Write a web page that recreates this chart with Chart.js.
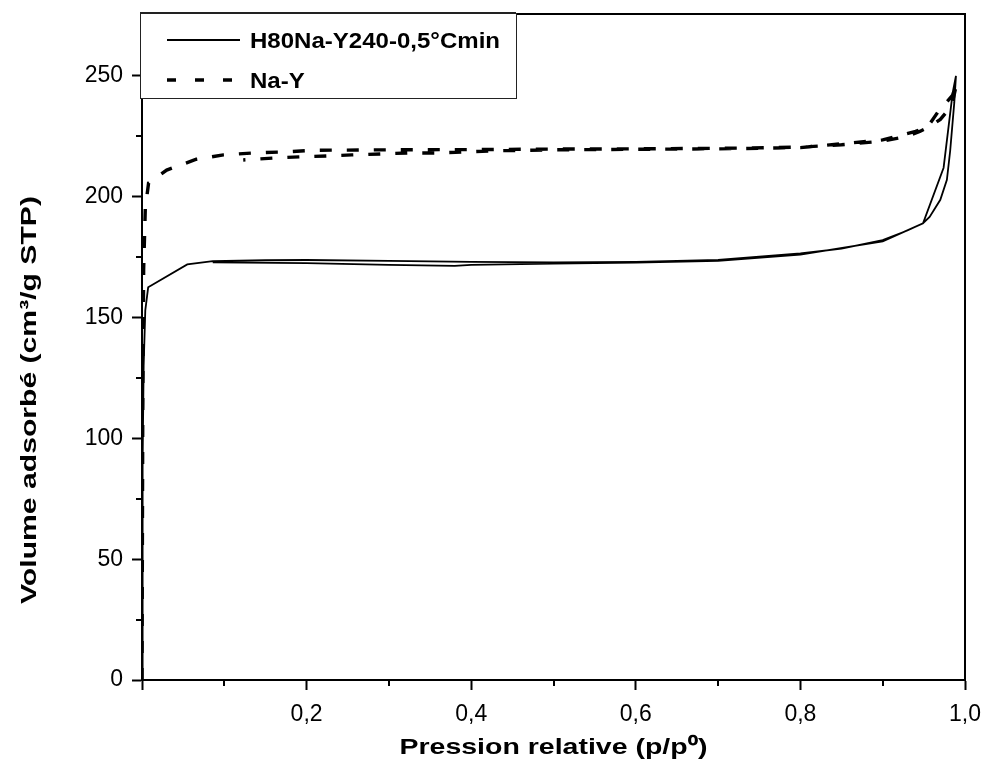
<!DOCTYPE html>
<html>
<head>
<meta charset="utf-8">
<script src="https://cdn.jsdelivr.net/npm/chart.js@4.4.1/dist/chart.umd.min.js"></script>
<style>
  html, body { margin: 0; padding: 0; background: #fff; }
  #wrap { width: 983px; height: 776px; }
</style>
</head>
<body>
<div id="wrap"><canvas id="iso"></canvas></div>
<script>
// isotherm data (p/p0 -> cm3/g STP), adsorption then desorption
const h80Label = "H80Na-Y240-0,5°Cmin";
const h80P = [0, 0.0005, 0.001, 0.002, 0.004, 0.0075, 0.055, 0.086, 0.15, 0.2, 0.3, 0.4, 0.5, 0.6, 0.7, 0.8, 0.85, 0.9, 0.93, 0.949, 0.957, 0.97, 0.978, 0.982, 0.987, 0.989,
              0.985, 0.974, 0.949, 0.9, 0.8, 0.7, 0.6, 0.5, 0.4, 0.38, 0.3, 0.2, 0.086];
const h80V = [0, 40, 90, 130, 153, 162.5, 172, 173.3, 173.7, 173.8, 173.4, 173, 172.8, 173, 173.8, 176.5, 178.5, 182, 186, 189, 191.6, 198.7, 207, 219, 239, 250,
              243, 212, 189, 181.5, 176, 173.5, 172.7, 172.3, 171.8, 171.4, 171.8, 172.5, 172.8];

const naYLabel = "Na-Y";
const naYP = [0, 0.0005, 0.001, 0.002, 0.004, 0.008, 0.03, 0.066, 0.099, 0.135, 0.172, 0.208, 0.3, 0.4, 0.5, 0.6, 0.7, 0.8, 0.85, 0.9, 0.93, 0.945, 0.957, 0.97, 0.98, 0.986, 0.99,
              0.985, 0.967, 0.955, 0.94, 0.9, 0.8, 0.7, 0.6, 0.5, 0.43, 0.393, 0.359, 0.324, 0.29, 0.255, 0.229, 0.192, 0.16, 0.123];
const naYV = [0, 60, 120, 170, 195, 205.7, 211, 215.5, 217.3, 218.1, 218.5, 219.2, 219.4, 219.5, 219.7, 219.8, 220, 220.5, 221.5, 223, 225, 227, 229, 232, 236, 241, 247,
              242, 235, 229, 227, 223.5, 220.3, 219.8, 219.6, 219.4, 219, 218.5, 218.1, 218.1, 217.7, 217.3, 216.9, 216.5, 216, 215.2];

const xMinorTicks = [0.1, 0.3, 0.5, 0.7, 0.9];
const yMinorTicks = [25, 75, 125, 175, 225];

const xTitle = "Pression relative (p/p⁰)";
const yTitle = "Volume adsorbé (cm³/g STP)";

const toPoints = (xs, ys) => xs.map((x, i) => ({ x: x, y: ys[i] }));
const FONT = "'Liberation Sans', Arial, sans-serif";

// draws text at (0,0) stretched horizontally by factor k
function wideText(ctx, text, k) {
    ctx.save();
    ctx.scale(k, 1);
    ctx.fillText(text, 0, 0);
    ctx.restore();
}

// frame, minor ticks, axis titles and the boxed legend
const extras = {
    id: "extras",
    afterDraw(chart) {
        const ctx = chart.ctx;
        const a = chart.chartArea;
        const xs = chart.scales.x, ys = chart.scales.y;
        ctx.save();
        ctx.strokeStyle = "#000";
        ctx.lineWidth = 2;
        ctx.beginPath();
        ctx.moveTo(a.left, a.top); ctx.lineTo(a.right, a.top); ctx.lineTo(a.right, a.bottom);
        xMinorTicks.forEach(v => {
            const px = Math.round(xs.getPixelForValue(v));
            ctx.moveTo(px, a.bottom); ctx.lineTo(px, a.bottom + 6);
        });
        yMinorTicks.forEach(v => {
            const py = Math.round(ys.getPixelForValue(v));
            ctx.moveTo(a.left, py); ctx.lineTo(a.left - 6, py);
        });
        ctx.stroke();

        ctx.fillStyle = "#000";
        ctx.font = "bold 22px " + FONT;
        ctx.textAlign = "center";
        ctx.textBaseline = "middle";
        // x title
        ctx.save();
        ctx.translate((a.left + a.right) / 2, 748);
        wideText(ctx, xTitle, 308 / ctx.measureText(xTitle).width);
        ctx.restore();
        // y title
        ctx.save();
        ctx.translate(30, 400);
        ctx.rotate(-Math.PI / 2);
        wideText(ctx, yTitle, 408 / ctx.measureText(yTitle).width);
        ctx.restore();
        ctx.restore();

        // legend box
        ctx.save();
        const bx = 140, by = 13, bw = 376, bh = 85;
        ctx.fillStyle = "#fff";
        ctx.fillRect(bx, by, bw, bh);
        ctx.strokeStyle = "#222";
        ctx.lineWidth = 1;
        ctx.strokeRect(bx + 0.5, by + 0.5, bw, bh);
        ctx.lineWidth = 2;
        ctx.beginPath();
        ctx.moveTo(bx, by); ctx.lineTo(bx + bw, by);
        ctx.stroke();
        ctx.font = "bold 22px " + FONT;
        const k = 250 / ctx.measureText(h80Label).width;
        const rows = [40, 80];
        chart.data.datasets.forEach((ds, i) => {
            ctx.strokeStyle = "#000";
            ctx.lineWidth = ds.borderWidth;
            ctx.setLineDash(i === 1 ? [9, 19] : []);
            ctx.beginPath();
            ctx.moveTo(167, rows[i]);
            ctx.lineTo(240, rows[i]);
            ctx.stroke();
            ctx.setLineDash([]);
            ctx.fillStyle = "#000";
            ctx.textAlign = "left";
            ctx.textBaseline = "middle";
            ctx.save();
            ctx.translate(250, rows[i] + 2);
            wideText(ctx, ds.label, k);
            ctx.restore();
        });
        ctx.restore();
    }
};

new Chart(document.getElementById("iso"), {
    type: "scatter",
    data: {
        datasets: [
            {
                label: h80Label,
                data: toPoints(h80P, h80V),
                showLine: true,
                borderColor: "#000",
                borderWidth: 1.8,
                pointRadius: 0,
                tension: 0
            },
            {
                label: naYLabel,
                data: toPoints(naYP, naYV),
                showLine: true,
                borderColor: "#000",
                borderWidth: 3.4,
                borderDash: [12, 15],
                pointRadius: 0,
                tension: 0
            }
        ]
    },
    options: {
        responsive: true,
        maintainAspectRatio: false,
        animation: false,
        layout: { padding: { top: 14, right: 18, left: 0, bottom: 0 } },
        plugins: {
            legend: { display: false },
            tooltip: { enabled: false }
        },
        scales: {
            x: {
                type: "linear",
                min: 0,
                max: 1,
                afterFit: (s) => { s.height = 96; s.paddingLeft = 0; s.paddingRight = 0; },
                border: { display: true, color: "#000", width: 2 },
                grid: { drawOnChartArea: false, color: "#000", tickLength: 10, tickWidth: 2 },
                ticks: {
                    stepSize: 0.2,
                    color: "#000",
                    padding: 11,
                    maxRotation: 0,
                    font: { family: FONT, size: 23 },
                    callback: (v) => (v === 0 ? "" : v.toFixed(1).replace(".", ","))
                }
            },
            y: {
                type: "linear",
                min: 0,
                max: 275.6,
                afterFit: (s) => { s.width = 142; s.paddingTop = 0; s.paddingBottom = 0; },
                border: { display: true, color: "#000", width: 2 },
                grid: { drawOnChartArea: false, color: "#000", tickLength: 10, tickWidth: 2 },
                ticks: {
                    stepSize: 50,
                    includeBounds: false,
                    color: "#000",
                    padding: 9,
                    font: { family: FONT, size: 23 },
                    callback: (v) => (v % 50 === 0 ? String(v) : "")
                }
            }
        }
    },
    plugins: [extras]
});
</script>
</body>
</html>
